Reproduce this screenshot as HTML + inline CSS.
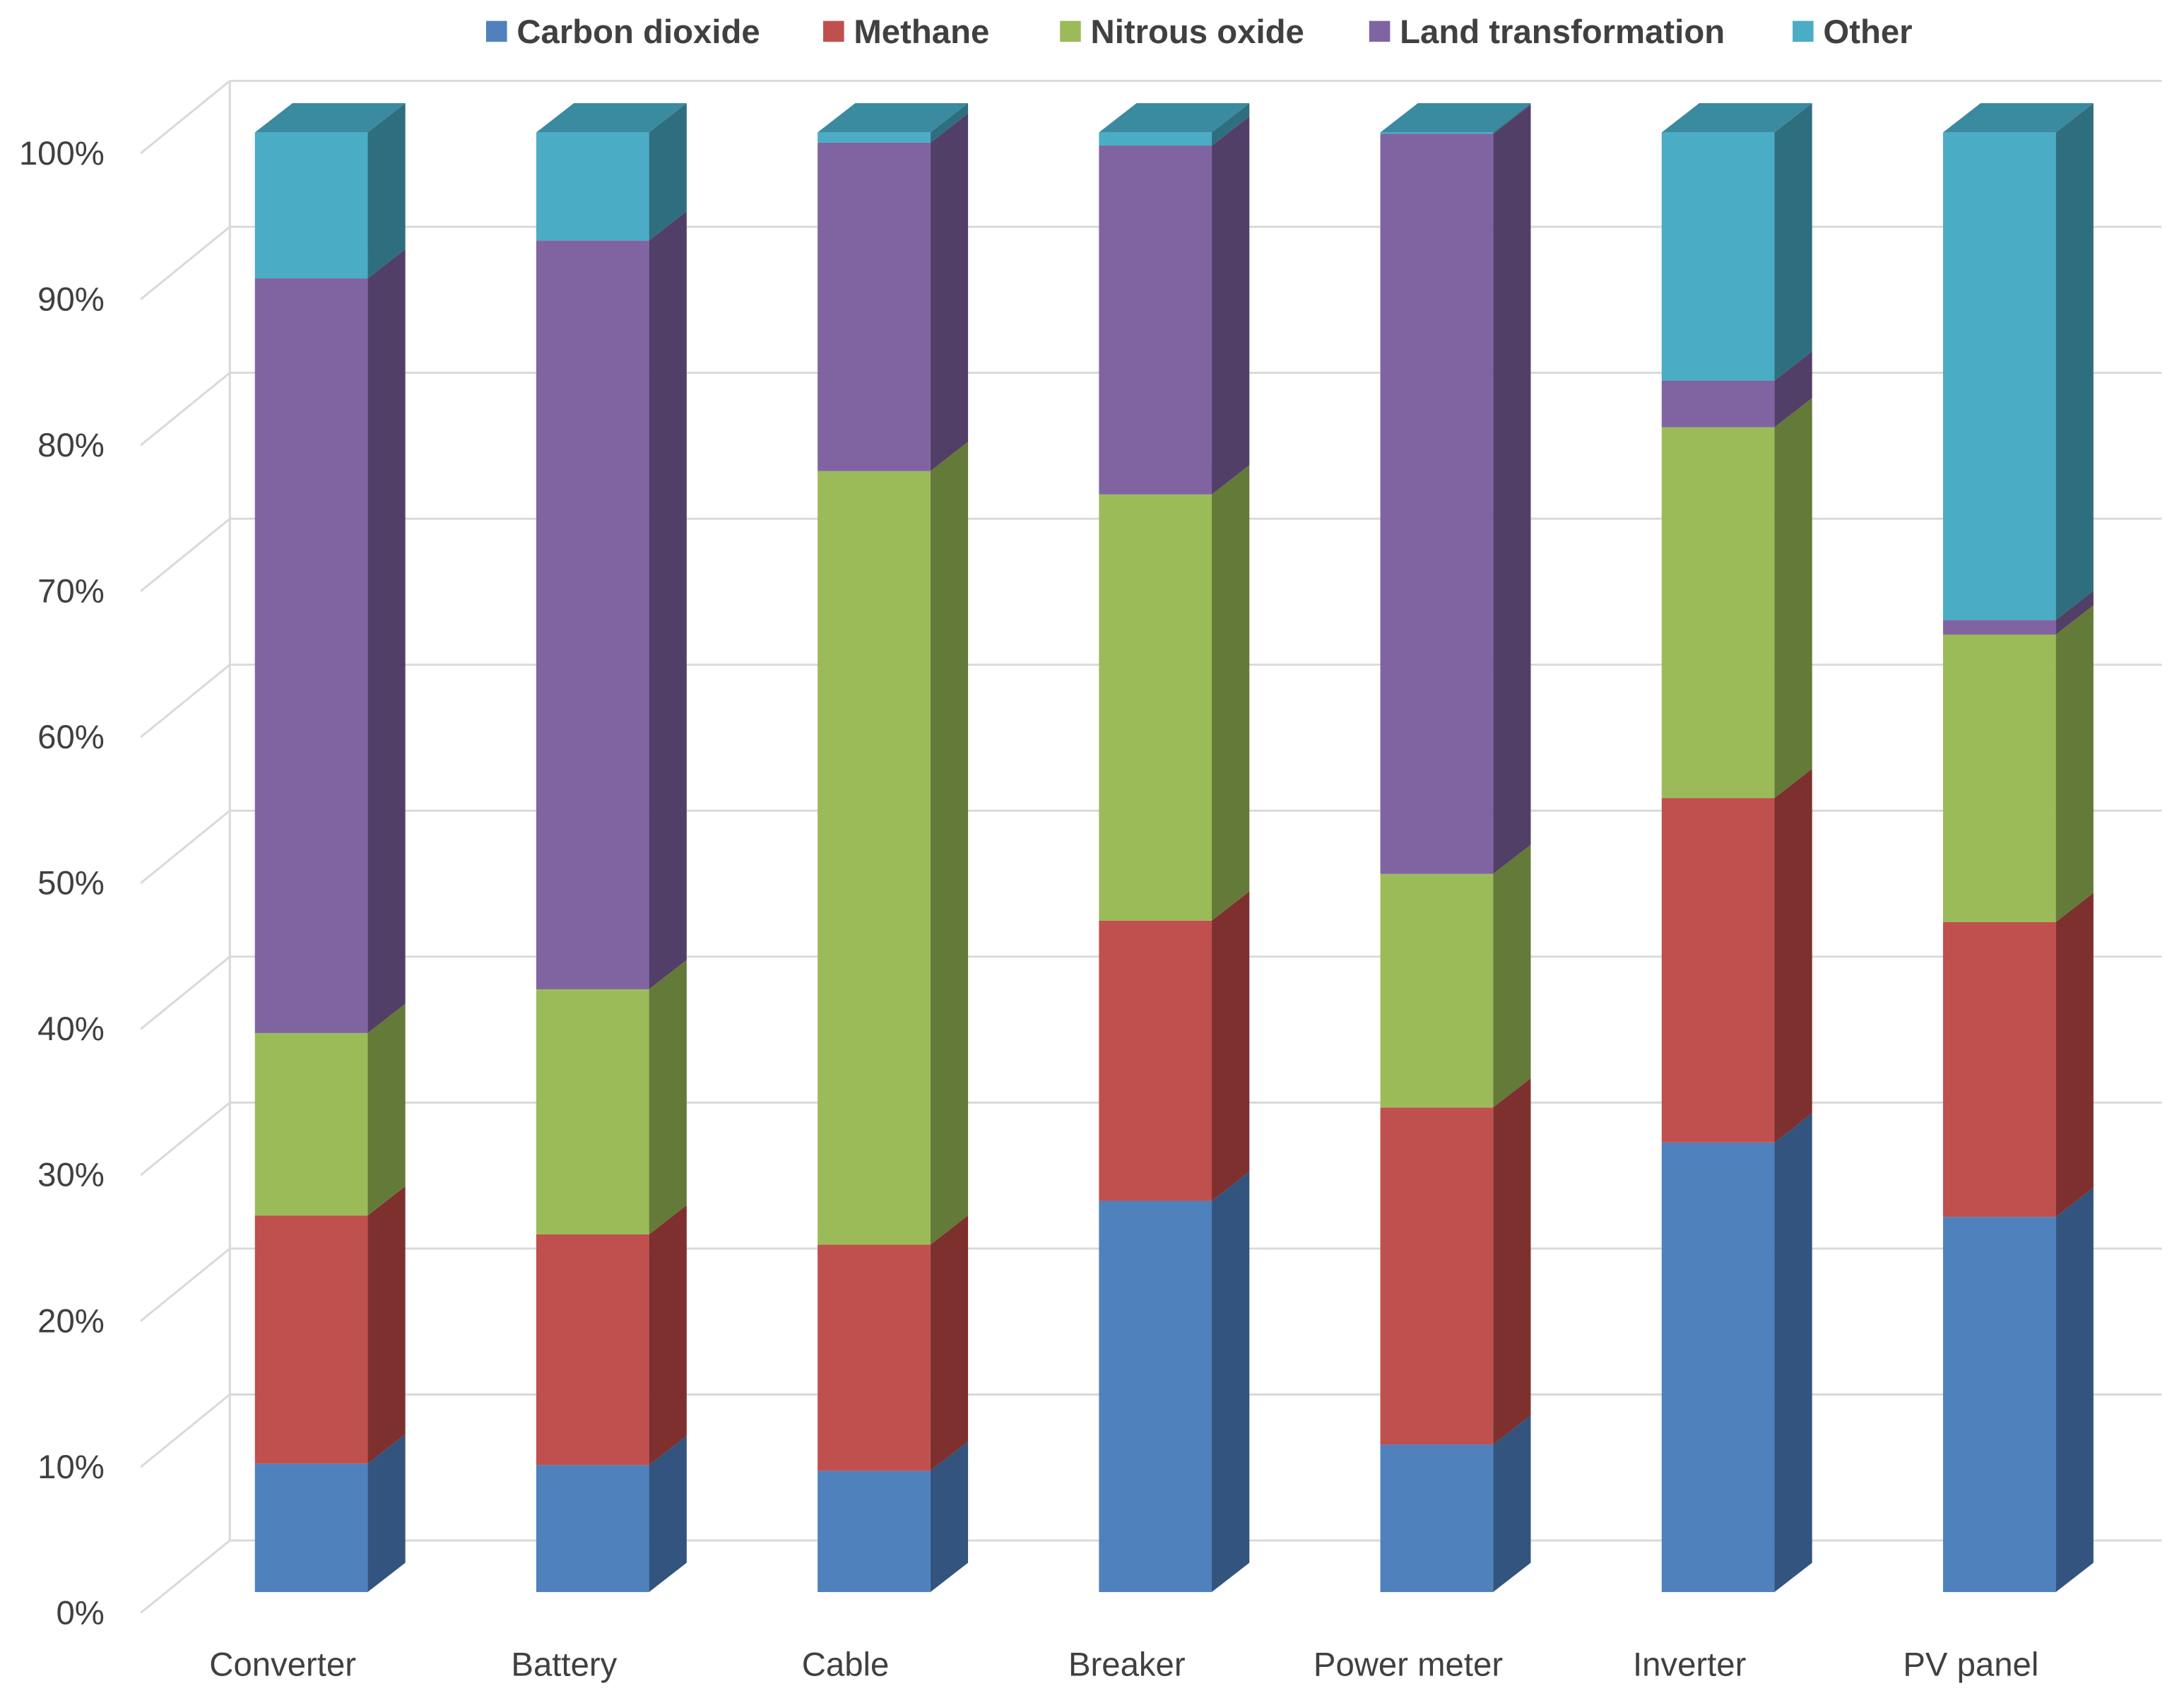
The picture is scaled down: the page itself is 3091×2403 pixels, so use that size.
<!DOCTYPE html>
<html><head><meta charset="utf-8"><style>
html,body{margin:0;padding:0;background:#fff;}
svg{display:block;font-family:"Liberation Sans",sans-serif;}
</style></head><body>
<svg id="chart" width="3091" height="2403" viewBox="0 0 1568 1218" preserveAspectRatio="none" xmlns="http://www.w3.org/2000/svg">
<g id="grid"></g>
<g id="yaxis"></g>
<g id="bars"></g>
<g id="xaxis"></g>
<g id="legend"></g>
</svg>
<script>
const categories = ["Converter","Battery","Cable","Breaker","Power meter","Inverter","PV panel"];
const seriesNames = ["Carbon dioxide","Methane","Nitrous oxide","Land transformation","Other"];
const co2 = [8.8, 8.7, 8.3, 26.8, 10.1, 30.8, 25.7];
const methane = [17.0, 15.8, 15.5, 19.2, 23.1, 23.6, 20.2];
const nitrous = [12.5, 16.8, 53.0, 29.2, 16.0, 25.4, 19.7];
const land = [51.7, 51.3, 22.5, 23.9, 50.7, 3.2, 1.0];
const other = [10.0, 7.4, 0.7, 0.9, 0.1, 17.0, 33.4];
const yTicks = ["0%","10%","20%","30%","40%","50%","60%","70%","80%","90%","100%"];

const series = [co2, methane, nitrous, land, other];
const frontColor = ["#4F81BD","#C0504D","#9BBB59","#8064A2","#4BACC6"];
const sideColor = ["#32547E","#7E302E","#647A38","#523F68","#2F6E7F"];
const topColor = ["#3D6A9E","#A0403D","#7E9B47","#6A5287","#3A8AA0"];
const NS = "http://www.w3.org/2000/svg";
function mk(tag, attrs, parent){const e=document.createElementNS(NS,tag);for(const k in attrs)e.setAttribute(k,attrs[k]);parent.appendChild(e);return e;}
const y0 = 1142, yScale = 10.47, dx = 27, dy = -21;
function yv(v){return y0 - v*yScale;}
function xb(i){return 183 + i*202;}
const bw = 81;

const grid = document.getElementById('grid');
const yaxis = document.getElementById('yaxis');
yTicks.forEach((t,i)=>{
  const yb = 1105 - i*104.7;
  const l = mk('line',{x1:165,y1:yb,x2:1552,y2:yb,stroke:"#d9d9d9","stroke-width":1.5},grid);
  
  
  const d = mk('line',{x1:101,y1:yb+52,x2:165,y2:yb,stroke:"#d9d9d9","stroke-width":1.5},grid);
  
  
  const tx = mk('text',{x:75,y:yb+60,"text-anchor":"end","font-size":24,fill:"#404040"},yaxis);
  tx.textContent = t;
  
  
});
mk('line',{x1:165,y1:58,x2:165,y2:1105,stroke:"#d9d9d9","stroke-width":1.5},grid);

const bars = document.getElementById('bars');
const xaxis = document.getElementById('xaxis');
categories.forEach((c,i)=>{
  const x = xb(i);
  let cum = 0;
  series.forEach((s,k)=>{
    const v = s[i];
    const yb = yv(cum), yt = yv(cum+v);
    cum += v;
    if(v<=0) return;
    const g = mk('g',{},bars);
    
    
    mk('rect',{x:x,y:yt,width:bw,height:yb-yt,fill:frontColor[k]},g);
    mk('polygon',{points:`${x+bw},${yb} ${x+bw+dx},${yb+dy} ${x+bw+dx},${yt+dy} ${x+bw},${yt}`,fill:sideColor[k]},g);
  });
  const yt = yv(cum);
  let ti = 4; for(let k=4;k>=0;k--){ if(series[k][i]>0){ti=k;break;} }
  const tp = mk('polygon',{points:`${x},${yt} ${x+dx},${yt+dy} ${x+bw+dx},${yt+dy} ${x+bw},${yt}`,fill:topColor[ti]},bars);
  
  
  const lb = mk('text',{x:x+20,y:1202,"text-anchor":"middle","font-size":24,fill:"#404040"},xaxis);
  lb.textContent = c;
  
  
});

const legend = document.getElementById('legend');
const lx = [349,591,761,983,1287];
seriesNames.forEach((n,k)=>{
  const g = mk('g',{},legend);
  
  
  mk('rect',{x:lx[k],y:15,width:15,height:15,fill:frontColor[k]},g);
  const t = mk('text',{x:lx[k]+22,y:31,"font-size":24,"font-weight":"bold",fill:"#404040"},g);
  t.textContent = n;
});
</script>
</body></html>
